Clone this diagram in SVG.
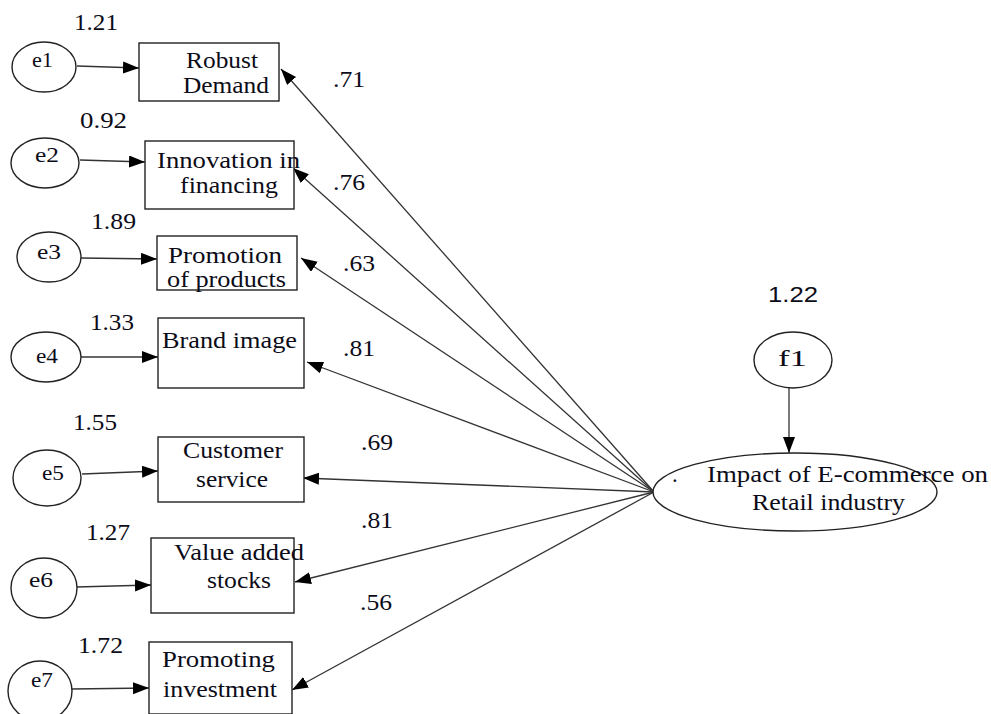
<svg xmlns="http://www.w3.org/2000/svg" width="991" height="714" viewBox="0 0 991 714">
<style>
.bg{fill:#fff}
.node{fill:#fff;stroke:#222;stroke-width:1.4}
.t{font-family:"Liberation Serif","Times New Roman",serif;font-size:23px;fill:#0c0c18}
.s{font-family:"Liberation Sans",Arial,sans-serif;font-size:22px;fill:#0c0c18}
.e{font-size:21px}
.c{stroke:#333;stroke-width:1.3;fill:none;marker-end:url(#ah)}
</style>
<defs>
<marker id="ah" markerUnits="userSpaceOnUse" markerWidth="18" markerHeight="14" refX="16" refY="6" orient="auto">
<path d="M0,0 L16,6 L0,12 z" fill="#000"/>
</marker>
</defs>
<rect class="bg" x="0" y="0" width="991" height="714"/>
<g id="connectors">
<line class="c" x1="77" y1="66" x2="139" y2="68"/>
<line class="c" x1="80" y1="160" x2="145" y2="162"/>
<line class="c" x1="81" y1="258" x2="157" y2="259"/>
<line class="c" x1="81" y1="357" x2="158" y2="357"/>
<line class="c" x1="82" y1="474" x2="158" y2="471"/>
<line class="c" x1="76" y1="587" x2="151" y2="585"/>
<line class="c" x1="72" y1="689" x2="149" y2="688"/>
<line class="c" x1="654" y1="492" x2="281" y2="69"/>
<line class="c" x1="654" y1="492" x2="293" y2="168"/>
<line class="c" x1="654" y1="492" x2="301" y2="258"/>
<line class="c" x1="654" y1="492" x2="307" y2="362"/>
<line class="c" x1="654" y1="492" x2="303" y2="478"/>
<line class="c" x1="654" y1="492" x2="295" y2="582"/>
<line class="c" x1="654" y1="492" x2="292" y2="690"/>
<line class="c" x1="789" y1="388" x2="789" y2="453"/>
</g>
<g id="e1"><ellipse class="node" cx="44" cy="67" rx="32" ry="25"/><text class="t e" x="32" y="67" textLength="21" lengthAdjust="spacingAndGlyphs">e1</text></g>
<g id="e2"><ellipse class="node" cx="45" cy="163" rx="34" ry="25"/><text class="t e" x="35" y="162" textLength="24" lengthAdjust="spacingAndGlyphs">e2</text></g>
<g id="e3"><ellipse class="node" cx="49" cy="257" rx="32" ry="25"/><text class="t e" x="37" y="259" textLength="24" lengthAdjust="spacingAndGlyphs">e3</text></g>
<g id="e4"><ellipse class="node" cx="46" cy="357" rx="35" ry="25"/><text class="t e" x="36" y="363" textLength="22" lengthAdjust="spacingAndGlyphs">e4</text></g>
<g id="e5"><ellipse class="node" cx="47" cy="478" rx="34" ry="28"/><text class="t e" x="42" y="480" textLength="22" lengthAdjust="spacingAndGlyphs">e5</text></g>
<g id="e6"><ellipse class="node" cx="44" cy="588" rx="33" ry="30"/><text class="t e" x="29" y="587" textLength="24" lengthAdjust="spacingAndGlyphs">e6</text></g>
<g id="e7"><ellipse class="node" cx="40" cy="691" rx="32" ry="30"/><text class="t e" x="31" y="687" textLength="22" lengthAdjust="spacingAndGlyphs">e7</text></g>
<g id="v1"><rect class="node" x="139" y="43" width="140" height="58"/><text class="t" x="186" y="68" textLength="72" lengthAdjust="spacingAndGlyphs">Robust</text><text class="t" x="183" y="93" textLength="86" lengthAdjust="spacingAndGlyphs">Demand</text></g>
<g id="v2"><rect class="node" x="145" y="141" width="149" height="68"/><text class="t" x="157" y="168" textLength="143" lengthAdjust="spacingAndGlyphs">Innovation in</text><text class="t" x="180" y="193" textLength="98" lengthAdjust="spacingAndGlyphs">financing</text></g>
<g id="v3"><rect class="node" x="157" y="236" width="140" height="54"/><text class="t" x="168" y="263" textLength="114" lengthAdjust="spacingAndGlyphs">Promotion</text><text class="t" x="167" y="287" textLength="119" lengthAdjust="spacingAndGlyphs">of products</text></g>
<g id="v4"><rect class="node" x="158" y="318" width="146" height="70"/><text class="t" x="162" y="348" textLength="135" lengthAdjust="spacingAndGlyphs">Brand image</text></g>
<g id="v5"><rect class="node" x="158" y="437" width="146" height="65"/><text class="t" x="183" y="458" textLength="100" lengthAdjust="spacingAndGlyphs">Customer</text><text class="t" x="196" y="487" textLength="72" lengthAdjust="spacingAndGlyphs">service</text></g>
<g id="v6"><rect class="node" x="151" y="538" width="143" height="75"/><text class="t" x="174" y="560" textLength="130" lengthAdjust="spacingAndGlyphs">Value added</text><text class="t" x="207" y="588" textLength="64" lengthAdjust="spacingAndGlyphs">stocks</text></g>
<g id="v7"><rect class="node" x="149" y="642" width="143" height="72"/><text class="t" x="162" y="667" textLength="113" lengthAdjust="spacingAndGlyphs">Promoting</text><text class="t" x="163" y="697" textLength="114" lengthAdjust="spacingAndGlyphs">investment</text></g>
<g id="f1"><ellipse class="node" cx="793" cy="360" rx="39" ry="28"/><text class="t" x="778" y="366" font-size="25" textLength="29" lengthAdjust="spacingAndGlyphs">f1</text></g>
<g id="impact"><ellipse class="node" cx="795" cy="492" rx="142" ry="39"/><text class="t" x="672" y="482">.</text><text class="t" x="707" y="482" textLength="281" lengthAdjust="spacingAndGlyphs">Impact of E-commerce on</text><text class="t" x="752" y="510" textLength="153" lengthAdjust="spacingAndGlyphs">Retail industry</text></g>
<g id="labels">
<text class="t" x="74" y="30" textLength="44" lengthAdjust="spacingAndGlyphs">1.21</text>
<text class="t" x="80" y="128" textLength="47" lengthAdjust="spacingAndGlyphs">0.92</text>
<text class="t" x="91" y="229" textLength="45" lengthAdjust="spacingAndGlyphs">1.89</text>
<text class="t" x="90" y="330" textLength="44" lengthAdjust="spacingAndGlyphs">1.33</text>
<text class="t" x="73" y="430" textLength="44" lengthAdjust="spacingAndGlyphs">1.55</text>
<text class="t" x="86" y="540" textLength="44" lengthAdjust="spacingAndGlyphs">1.27</text>
<text class="t" x="78" y="653" textLength="45" lengthAdjust="spacingAndGlyphs">1.72</text>
<text class="s" x="768" y="302" textLength="50" lengthAdjust="spacingAndGlyphs">1.22</text>
<text class="t" x="333" y="87" textLength="32" lengthAdjust="spacingAndGlyphs">.71</text>
<text class="t" x="333" y="190" textLength="32" lengthAdjust="spacingAndGlyphs">.76</text>
<text class="t" x="343" y="271" textLength="32" lengthAdjust="spacingAndGlyphs">.63</text>
<text class="t" x="343" y="356" textLength="32" lengthAdjust="spacingAndGlyphs">.81</text>
<text class="t" x="361" y="450" textLength="32" lengthAdjust="spacingAndGlyphs">.69</text>
<text class="t" x="361" y="528" textLength="32" lengthAdjust="spacingAndGlyphs">.81</text>
<text class="t" x="360" y="610" textLength="32" lengthAdjust="spacingAndGlyphs">.56</text>
</g>
</svg>
